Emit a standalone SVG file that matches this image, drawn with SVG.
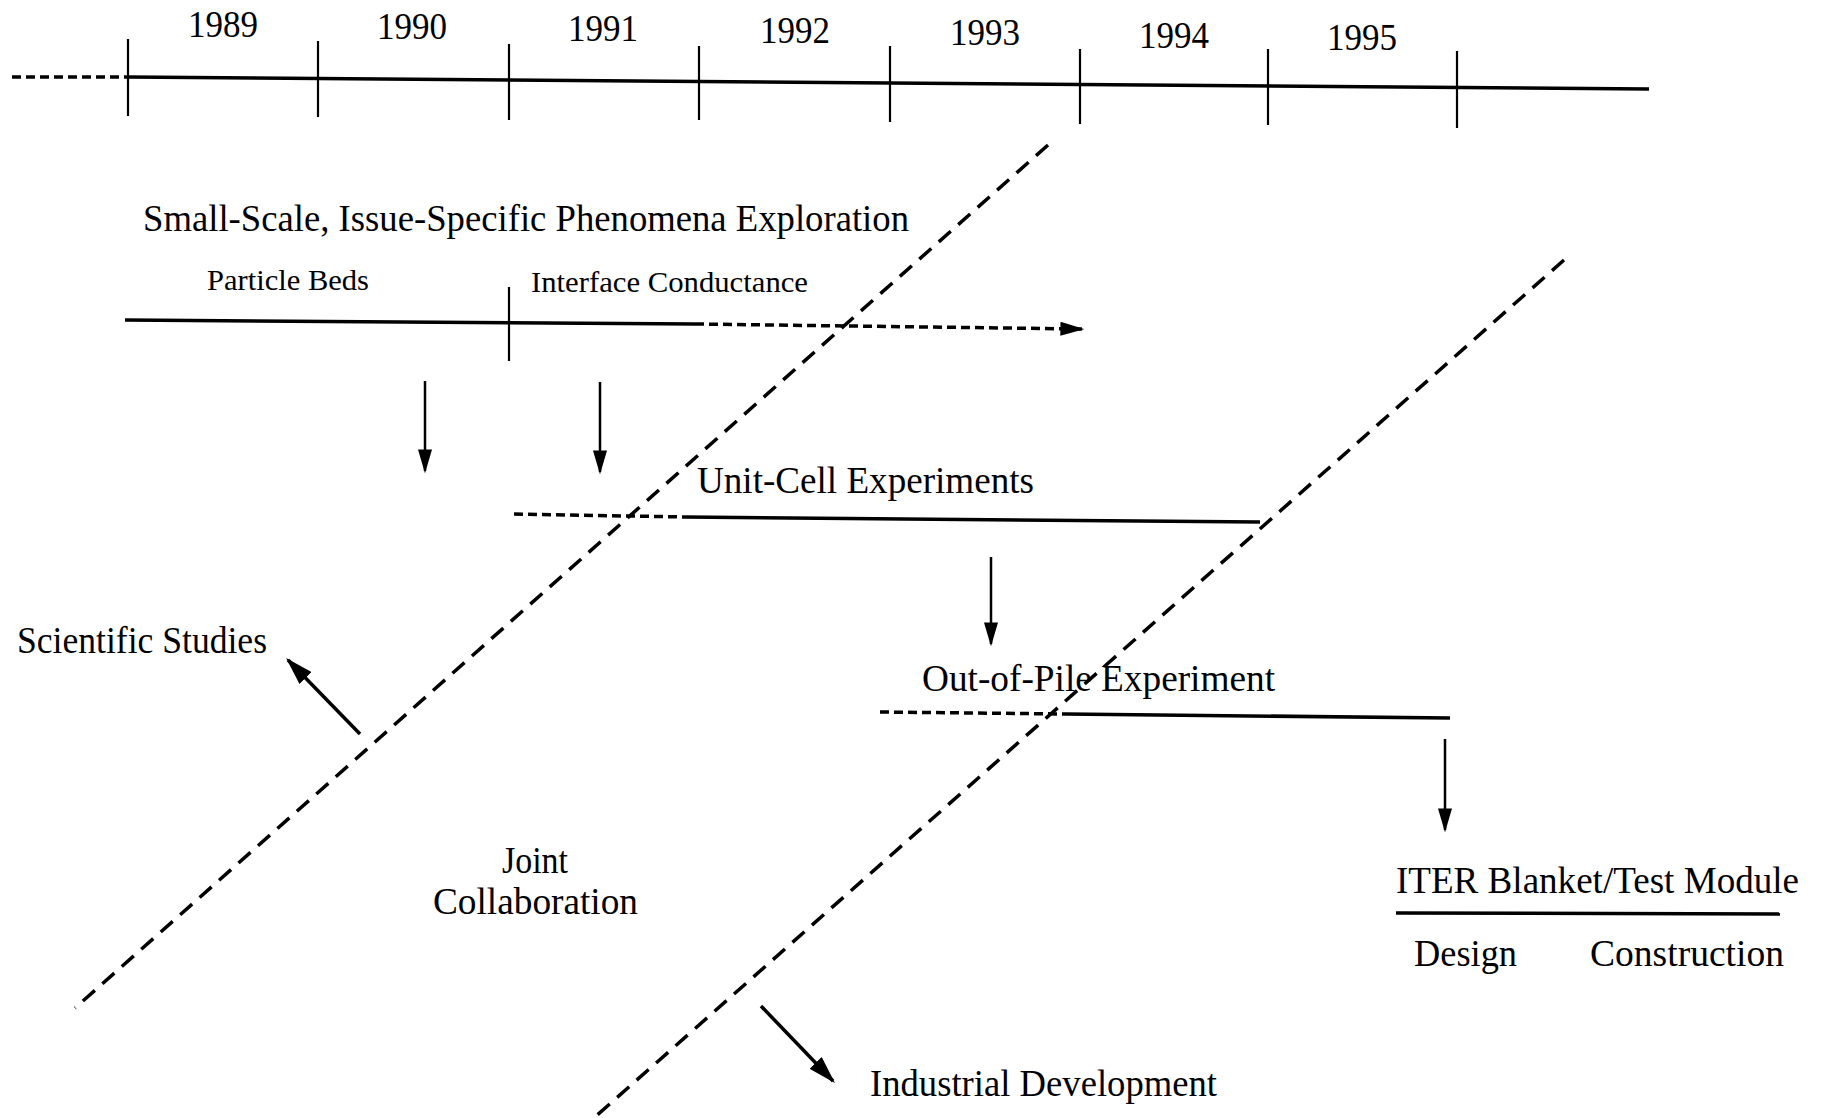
<svg xmlns="http://www.w3.org/2000/svg" width="1821" height="1118" viewBox="0 0 1821 1118">
<defs>
<marker id="ahb" viewBox="0 0 10 10" refX="9" refY="5" markerWidth="24" markerHeight="14" markerUnits="userSpaceOnUse" orient="auto" preserveAspectRatio="none">
<path d="M0,0 L10,5 L0,10 z" fill="#000"/>
</marker>
<marker id="ahl" viewBox="0 0 10 10" refX="9" refY="5" markerWidth="28" markerHeight="17" markerUnits="userSpaceOnUse" orient="auto" preserveAspectRatio="none">
<path d="M0,0 L10,5 L0,10 z" fill="#000"/>
</marker>
</defs>
<style>
text{font-family:"Liberation Serif","Times New Roman",serif;fill:#000}
.yr{font-size:37px}
.lbl{font-size:37px}
.sm{font-size:30px}
.ln{stroke:#000;stroke-width:3.5;fill:none}
.tk{stroke:#000;stroke-width:2.2;fill:none}
.hd{stroke:#000;stroke-width:3.5;fill:none;stroke-dasharray:9 5}
.dg{stroke:#000;stroke-width:3.5;fill:none;stroke-dasharray:16 10}
.ar{stroke:#000;stroke-width:2.5;fill:none;marker-end:url(#ahb)}
.ar3{stroke:#000;stroke-width:3.5;fill:none;marker-end:url(#ahl)}
</style>
<rect width="1821" height="1118" fill="#fff"/>

<g id="timeline">
<line class="hd" x1="12" y1="77" x2="128" y2="77"/>
<line class="ln" x1="128" y1="77" x2="1649" y2="89"/>
<line class="tk" x1="128" y1="39" x2="128" y2="116"/>
<line class="tk" x1="318" y1="41" x2="318" y2="117"/>
<line class="tk" x1="509" y1="44" x2="509" y2="120"/>
<line class="tk" x1="699" y1="46" x2="699" y2="120"/>
<line class="tk" x1="890" y1="46" x2="890" y2="122"/>
<line class="tk" x1="1080" y1="49" x2="1080" y2="124"/>
<line class="tk" x1="1268" y1="49" x2="1268" y2="125"/>
<line class="tk" x1="1457" y1="51" x2="1457" y2="128"/>
<text class="yr" x="188" y="37" textLength="70" lengthAdjust="spacingAndGlyphs">1989</text>
<text class="yr" x="377" y="39" textLength="70" lengthAdjust="spacingAndGlyphs">1990</text>
<text class="yr" x="568" y="41" textLength="70" lengthAdjust="spacingAndGlyphs">1991</text>
<text class="yr" x="760" y="43" textLength="70" lengthAdjust="spacingAndGlyphs">1992</text>
<text class="yr" x="950" y="45" textLength="70" lengthAdjust="spacingAndGlyphs">1993</text>
<text class="yr" x="1139" y="48" textLength="70" lengthAdjust="spacingAndGlyphs">1994</text>
<text class="yr" x="1327" y="50" textLength="70" lengthAdjust="spacingAndGlyphs">1995</text>
</g>

<g id="connectors">
<line class="dg" x1="1048" y1="145" x2="75" y2="1008"/>
<line class="dg" x1="1564" y1="260" x2="595" y2="1117"/>
<line class="ar" x1="425" y1="381" x2="425" y2="471"/>
<line class="ar" x1="600" y1="382" x2="600" y2="472"/>
<line class="ar" x1="991" y1="557" x2="991" y2="644"/>
<line class="ar" x1="1445" y1="739" x2="1445" y2="830"/>
<line class="ar3" x1="360" y1="734" x2="288" y2="660"/>
<line class="ar3" x1="761" y1="1006" x2="833" y2="1081"/>
</g>

<g id="small-scale">
<text class="lbl" x="143" y="231" textLength="766" lengthAdjust="spacingAndGlyphs">Small-Scale, Issue-Specific Phenomena Exploration</text>
<text class="sm" x="207" y="290" textLength="162" lengthAdjust="spacingAndGlyphs">Particle Beds</text>
<text class="sm" x="531" y="292" textLength="277" lengthAdjust="spacingAndGlyphs">Interface Conductance</text>
<line class="ln" x1="125" y1="320" x2="695" y2="324"/>
<line class="hd" x1="695" y1="324" x2="1082" y2="329" style="marker-end:url(#ahb)"/>
<line class="tk" x1="509" y1="287" x2="509" y2="361"/>
</g>

<g id="unit-cell">
<text class="lbl" x="697" y="493" textLength="337" lengthAdjust="spacingAndGlyphs">Unit-Cell Experiments</text>
<line class="hd" x1="514" y1="514" x2="685" y2="517"/>
<line class="ln" x1="685" y1="517" x2="1260" y2="522"/>
</g>

<g id="out-of-pile">
<text class="lbl" x="922" y="691" textLength="353" lengthAdjust="spacingAndGlyphs">Out-of-Pile Experiment</text>
<line class="hd" x1="880" y1="712" x2="1066" y2="714"/>
<line class="ln" x1="1066" y1="714" x2="1450" y2="718"/>
</g>

<g id="iter">
<text class="lbl" x="1396" y="893" textLength="403" lengthAdjust="spacingAndGlyphs">ITER Blanket/Test Module</text>
<line class="ln" x1="1396" y1="913" x2="1780" y2="914"/>
<text class="lbl" x="1414" y="966" textLength="103" lengthAdjust="spacingAndGlyphs">Design</text>
<text class="lbl" x="1590" y="966" textLength="194" lengthAdjust="spacingAndGlyphs">Construction</text>
</g>

<g id="scientific-studies">
<text class="lbl" x="17" y="653" textLength="250" lengthAdjust="spacingAndGlyphs">Scientific Studies</text>
</g>

<g id="joint-collaboration">
<text class="lbl" x="502" y="873" textLength="66" lengthAdjust="spacingAndGlyphs">Joint</text>
<text class="lbl" x="433" y="914" textLength="205" lengthAdjust="spacingAndGlyphs">Collaboration</text>
</g>

<g id="industrial-development">
<text class="lbl" x="870" y="1096" textLength="347" lengthAdjust="spacingAndGlyphs">Industrial Development</text>
</g>
</svg>
